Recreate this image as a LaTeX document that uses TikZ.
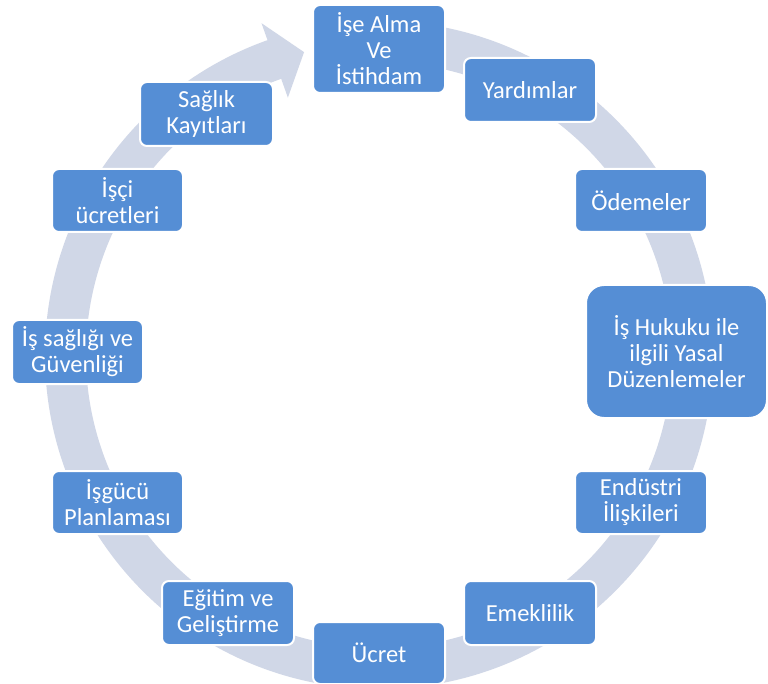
\documentclass[tikz,border=0pt]{standalone}
\usepackage{fontspec}
\setmainfont{Carlito}
\definecolor{boxblue}{RGB}{85,142,213}
\definecolor{ringcol}{RGB}{208,215,231}
\tikzset{
  cbox/.style={rectangle, rounded corners=7pt, fill=boxblue, draw=white, line width=2pt,
    text=white, align=center, inner sep=0pt,
    font=\fontsize{24.5}{26}\selectfont},
}
\begin{document}
\begin{tikzpicture}[x=1pt,y=1pt]
\useasboundingbox (0,0) rectangle (768,-684);
\fill[white] (0,0) rectangle (768,-684);
% ring arrow
\begin{scope}[shift={(379,-355)}]
\fill[ringcol] (90:334pt) arc[start angle=90,end angle=-250.5,radius=334pt]
  -- (-250.5:352pt) -- (-256.1:312pt) -- (-250.5:273pt) -- (-250.5:293pt)
  arc[start angle=-250.5,end angle=90,radius=293pt] -- cycle;
\end{scope}
% boxes
\node[cbox, minimum width=132pt, minimum height=88pt] (ise) at (379,-49) {İşe Alma\\Ve\\İstihdam};
\node[cbox, minimum width=132pt, minimum height=64pt] (yard) at (530,-90) {Yardımlar};
\node[cbox, minimum width=132pt, minimum height=63pt] (odeme) at (641,-200.5) {Ödemeler};
\node[cbox, rounded corners=18pt, minimum width=181pt, minimum height=133pt] (hukuk) at (676.5,-351.5) {İş Hukuku ile\\ilgili Yasal\\Düzenlemeler};
\node[cbox, minimum width=132pt, minimum height=63pt] (endus) at (641,-502.5) {Endüstri\\İlişkileri};
\node[cbox, minimum width=132pt, minimum height=64pt] (emek) at (530,-613) {Emeklilik};
\node[cbox, minimum width=132pt, minimum height=62pt] (ucret) at (379,-653) {Ücret};
\node[cbox, minimum width=132pt, minimum height=64pt] (egitim) at (228,-613) {Eğitim ve\\Geliştirme};
\node[cbox, minimum width=131pt, minimum height=63pt] (isgucu) at (117.5,-502.5) {İşgücü\\Planlaması};
\node[cbox, minimum width=131pt, minimum height=64pt] (issag) at (77.5,-352) {İş sağlığı ve\\Güvenliği};
\node[cbox, minimum width=131pt, minimum height=63pt] (isci) at (117.5,-200.5) {İşçi\\ücretleri};
\node[cbox, minimum width=133pt, minimum height=64pt] (saglik) at (206.5,-114) {Sağlık\\Kayıtları};
\end{tikzpicture}
\end{document}
